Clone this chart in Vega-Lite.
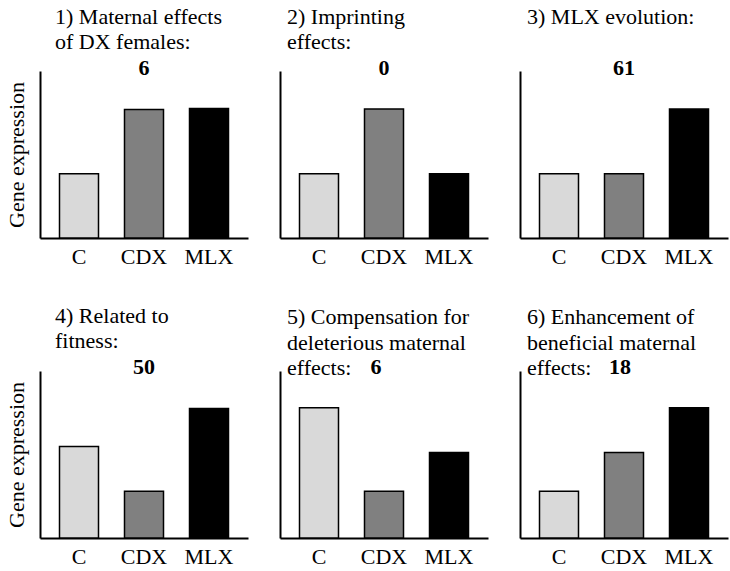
{
  "$schema": "https://vega.github.io/schema/vega-lite/v6.json",
  "padding": {"left": 4, "top": 5, "right": 5, "bottom": 5},
  "background": "white",
  "datasets": {
    "bars": [
      {"panel": 1, "group": "C", "value": 3.84},
      {"panel": 1, "group": "CDX", "value": 7.7},
      {"panel": 1, "group": "MLX", "value": 7.75},
      {"panel": 2, "group": "C", "value": 3.84},
      {"panel": 2, "group": "CDX", "value": 7.72},
      {"panel": 2, "group": "MLX", "value": 3.84},
      {"panel": 3, "group": "C", "value": 3.84},
      {"panel": 3, "group": "CDX", "value": 3.84},
      {"panel": 3, "group": "MLX", "value": 7.72},
      {"panel": 4, "group": "C", "value": 5.48},
      {"panel": 4, "group": "CDX", "value": 2.8},
      {"panel": 4, "group": "MLX", "value": 7.75},
      {"panel": 5, "group": "C", "value": 7.8},
      {"panel": 5, "group": "CDX", "value": 2.8},
      {"panel": 5, "group": "MLX", "value": 5.12},
      {"panel": 6, "group": "C", "value": 2.8},
      {"panel": 6, "group": "CDX", "value": 5.12},
      {"panel": 6, "group": "MLX", "value": 7.8}
    ],
    "counts": [
      {"panel": 1, "group": "CDX", "n": "6"},
      {"panel": 2, "group": "CDX", "n": "0"},
      {"panel": 3, "group": "CDX", "n": "61"},
      {"panel": 4, "group": "CDX", "n": "50"},
      {"panel": 5, "group": "CDX", "n": "6"},
      {"panel": 6, "group": "CDX", "n": "18"}
    ]
  },
  "vconcat": [
    {
      "hconcat": [
        {
          "width": 208, "height": 167,
          "title": {"text": ["1) Maternal effects", "of DX females:"], "font": "Liberation Serif", "dx": 15, "offset": 3},
          "layer": [
            {"data": {"name": "bars"}, "transform": [{"filter": "datum.panel == 1"}],
             "mark": {"type": "bar", "stroke": "black", "strokeWidth": 1.5},
             "encoding": {
               "x": {"field": "group", "type": "nominal", "scale": {"domain": ["C", "CDX", "MLX"], "paddingInner": 0.4, "paddingOuter": 0.3}, "axis": {"title": null, "labelAngle": 0, "labelPadding": 8}},
               "y": {"field": "value", "type": "quantitative", "scale": {"domain": [0, 10]}, "axis": {"title": "Gene expression", "labels": false, "titlePadding": 12}},
               "fill": {"field": "group", "type": "nominal", "scale": {"domain": ["C", "CDX", "MLX"], "range": ["#d9d9d9", "#808080", "#000000"]}, "legend": null}
             }},
            {"data": {"name": "counts"}, "transform": [{"filter": "datum.panel == 1"}],
             "mark": {"type": "text", "fontWeight": "bold", "fontSize": 22, "font": "Liberation Serif", "baseline": "alphabetic", "color": "black"},
             "encoding": {"x": {"field": "group", "type": "nominal"}, "y": {"datum": 9.76}, "text": {"field": "n"}}}
          ]
        },
        {
          "width": 208, "height": 167,
          "title": {"text": ["2) Imprinting", "effects:"], "font": "Liberation Serif", "dx": 7, "offset": 3},
          "layer": [
            {"data": {"name": "bars"}, "transform": [{"filter": "datum.panel == 2"}],
             "mark": {"type": "bar", "stroke": "black", "strokeWidth": 1.5},
             "encoding": {
               "x": {"field": "group", "type": "nominal", "scale": {"domain": ["C", "CDX", "MLX"], "paddingInner": 0.4, "paddingOuter": 0.3}, "axis": {"title": null, "labelAngle": 0, "labelPadding": 8}},
               "y": {"field": "value", "type": "quantitative", "scale": {"domain": [0, 10]}, "axis": {"title": null, "labels": false}},
               "fill": {"field": "group", "type": "nominal", "scale": {"domain": ["C", "CDX", "MLX"], "range": ["#d9d9d9", "#808080", "#000000"]}, "legend": null}
             }},
            {"data": {"name": "counts"}, "transform": [{"filter": "datum.panel == 2"}],
             "mark": {"type": "text", "fontWeight": "bold", "fontSize": 22, "font": "Liberation Serif", "baseline": "alphabetic", "color": "black"},
             "encoding": {"x": {"field": "group", "type": "nominal"}, "y": {"datum": 9.76}, "text": {"field": "n"}}}
          ]
        },
        {
          "width": 208, "height": 167,
          "title": {"text": ["3) MLX evolution:"], "font": "Liberation Serif", "dx": 7, "offset": 28},
          "layer": [
            {"data": {"name": "bars"}, "transform": [{"filter": "datum.panel == 3"}],
             "mark": {"type": "bar", "stroke": "black", "strokeWidth": 1.5},
             "encoding": {
               "x": {"field": "group", "type": "nominal", "scale": {"domain": ["C", "CDX", "MLX"], "paddingInner": 0.4, "paddingOuter": 0.3}, "axis": {"title": null, "labelAngle": 0, "labelPadding": 8}},
               "y": {"field": "value", "type": "quantitative", "scale": {"domain": [0, 10]}, "axis": {"title": null, "labels": false}},
               "fill": {"field": "group", "type": "nominal", "scale": {"domain": ["C", "CDX", "MLX"], "range": ["#d9d9d9", "#808080", "#000000"]}, "legend": null}
             }},
            {"data": {"name": "counts"}, "transform": [{"filter": "datum.panel == 3"}],
             "mark": {"type": "text", "fontWeight": "bold", "fontSize": 22, "font": "Liberation Serif", "baseline": "alphabetic", "color": "black"},
             "encoding": {"x": {"field": "group", "type": "nominal"}, "y": {"datum": 9.76}, "text": {"field": "n"}}}
          ]
        }
      ]
    },
    {
      "hconcat": [
        {
          "width": 208, "height": 167,
          "title": {"text": ["4) Related to", "fitness:"], "font": "Liberation Serif", "dx": 15, "offset": 3},
          "layer": [
            {"data": {"name": "bars"}, "transform": [{"filter": "datum.panel == 4"}],
             "mark": {"type": "bar", "stroke": "black", "strokeWidth": 1.5},
             "encoding": {
               "x": {"field": "group", "type": "nominal", "scale": {"domain": ["C", "CDX", "MLX"], "paddingInner": 0.4, "paddingOuter": 0.3}, "axis": {"title": null, "labelAngle": 0, "labelPadding": 8}},
               "y": {"field": "value", "type": "quantitative", "scale": {"domain": [0, 10]}, "axis": {"title": "Gene expression", "labels": false, "titlePadding": 12}},
               "fill": {"field": "group", "type": "nominal", "scale": {"domain": ["C", "CDX", "MLX"], "range": ["#d9d9d9", "#808080", "#000000"]}, "legend": null}
             }},
            {"data": {"name": "counts"}, "transform": [{"filter": "datum.panel == 4"}],
             "mark": {"type": "text", "fontWeight": "bold", "fontSize": 22, "font": "Liberation Serif", "baseline": "alphabetic", "color": "black"},
             "encoding": {"x": {"field": "group", "type": "nominal"}, "y": {"datum": 9.82}, "text": {"field": "n"}}}
          ]
        },
        {
          "width": 208, "height": 167,
          "title": {"text": ["5) Compensation for", "deleterious maternal", "effects:"], "font": "Liberation Serif", "dx": 7, "offset": -24},
          "layer": [
            {"data": {"name": "bars"}, "transform": [{"filter": "datum.panel == 5"}],
             "mark": {"type": "bar", "stroke": "black", "strokeWidth": 1.5},
             "encoding": {
               "x": {"field": "group", "type": "nominal", "scale": {"domain": ["C", "CDX", "MLX"], "paddingInner": 0.4, "paddingOuter": 0.3}, "axis": {"title": null, "labelAngle": 0, "labelPadding": 8}},
               "y": {"field": "value", "type": "quantitative", "scale": {"domain": [0, 10]}, "axis": {"title": null, "labels": false}},
               "fill": {"field": "group", "type": "nominal", "scale": {"domain": ["C", "CDX", "MLX"], "range": ["#d9d9d9", "#808080", "#000000"]}, "legend": null}
             }},
            {"data": {"name": "counts"}, "transform": [{"filter": "datum.panel == 5"}],
             "mark": {"type": "text", "fontWeight": "bold", "fontSize": 22, "font": "Liberation Serif", "baseline": "alphabetic", "color": "black", "dx": -8},
             "encoding": {"x": {"field": "group", "type": "nominal"}, "y": {"datum": 9.82}, "text": {"field": "n"}}}
          ]
        },
        {
          "width": 208, "height": 167,
          "title": {"text": ["6) Enhancement of", "beneficial maternal", "effects:"], "font": "Liberation Serif", "dx": 7, "offset": -24},
          "layer": [
            {"data": {"name": "bars"}, "transform": [{"filter": "datum.panel == 6"}],
             "mark": {"type": "bar", "stroke": "black", "strokeWidth": 1.5},
             "encoding": {
               "x": {"field": "group", "type": "nominal", "scale": {"domain": ["C", "CDX", "MLX"], "paddingInner": 0.4, "paddingOuter": 0.3}, "axis": {"title": null, "labelAngle": 0, "labelPadding": 8}},
               "y": {"field": "value", "type": "quantitative", "scale": {"domain": [0, 10]}, "axis": {"title": null, "labels": false}},
               "fill": {"field": "group", "type": "nominal", "scale": {"domain": ["C", "CDX", "MLX"], "range": ["#d9d9d9", "#808080", "#000000"]}, "legend": null}
             }},
            {"data": {"name": "counts"}, "transform": [{"filter": "datum.panel == 6"}],
             "mark": {"type": "text", "fontWeight": "bold", "fontSize": 22, "font": "Liberation Serif", "baseline": "alphabetic", "color": "black", "dx": -4},
             "encoding": {"x": {"field": "group", "type": "nominal"}, "y": {"datum": 9.82}, "text": {"field": "n"}}}
          ]
        }
      ]
    }
  ],
  "spacing": 37,
  "config": {
    "font": "Liberation Serif",
    "view": {"stroke": null},
    "concat": {"spacing": 32},
    "text": {"font": "Liberation Serif"},
    "style": {"group-title": {"font": "Liberation Serif"}, "text": {"font": "Liberation Serif"}},
    "axis": {"domainColor": "black", "domainWidth": 2, "ticks": false, "grid": false, "labelFont": "Liberation Serif", "labelFontSize": 22, "labelColor": "black", "titleFont": "Liberation Serif", "titleFontSize": 22, "titleFontWeight": "normal", "titleColor": "black"},
    "title": {"font": "Liberation Serif", "fontSize": 22, "fontWeight": "normal", "anchor": "start", "color": "black", "lineHeight": 25.5, "frame": "group"}
  }
}
